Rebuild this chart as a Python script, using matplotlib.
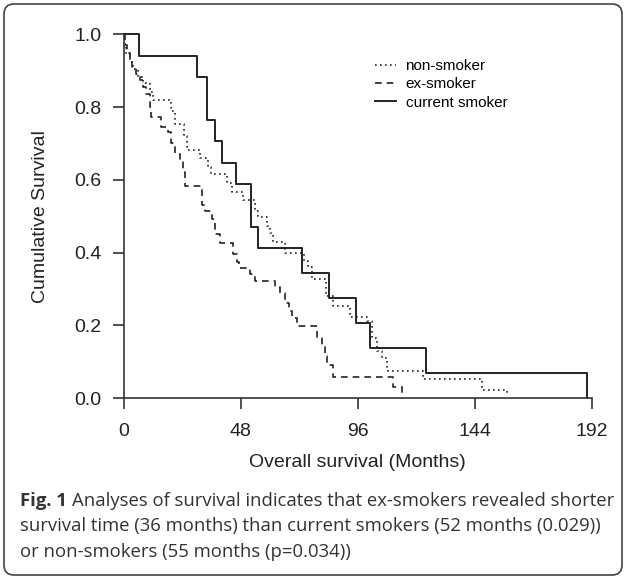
import numpy as np
import matplotlib.pyplot as plt
from matplotlib.patches import FancyBboxPatch
from matplotlib.transforms import IdentityTransform

# Kaplan-Meier step curves (months, cumulative survival)
t_non = [0, 0.7, 1.1, 2.5, 3.9, 5.9, 8.0, 10.7, 12.0, 19.6, 21.0, 24.6, 25.9, 31.4, 34.8, 36.0,
         42.3, 44.3, 49.1, 54.0, 55.3, 58.7, 60.0, 61.4, 66.2, 73.9, 75.7, 77.1, 83.0, 86.0,
         92.8, 100.0, 101.7, 103.8, 105.8, 107.9, 108.5, 122.9, 146.8, 157.0]
s_non = [1.0, 0.97, 0.947, 0.924, 0.904, 0.883, 0.866, 0.842, 0.819, 0.79, 0.754, 0.72, 0.683, 0.66, 0.636, 0.615,
         0.59, 0.566, 0.545, 0.515, 0.497, 0.474, 0.455, 0.428, 0.40, 0.377, 0.359, 0.327, 0.28, 0.253,
         0.223, 0.212, 0.165, 0.129, 0.111, 0.083, 0.074, 0.051, 0.023, 0.012]

t_ex = [0, 0.7, 1.5, 2.5, 3.5, 5.3, 6.6, 8.0, 9.3, 10.7, 11.4, 15.5, 18.2, 19.5, 21.1, 23.2, 24.5, 25.2,
        32.0, 33.4, 36.1, 37.5, 39.5, 45.0, 46.4, 47.3, 51.8, 53.9, 62.1, 64.1, 66.2, 68.0, 68.9, 71.0,
        79.2, 81.2, 82.5, 83.3, 86.0, 110.6, 114.0]
s_ex = [1.0, 0.97, 0.948, 0.924, 0.906, 0.892, 0.874, 0.855, 0.837, 0.80, 0.773, 0.745, 0.73, 0.70, 0.672, 0.649, 0.62, 0.582,
        0.53, 0.515, 0.493, 0.452, 0.425, 0.396, 0.373, 0.357, 0.341, 0.322, 0.305, 0.29, 0.262, 0.24, 0.221, 0.198,
        0.165, 0.143, 0.115, 0.092, 0.058, 0.029, 0.0]

t_cur = [0, 6.4, 30.2, 34.4, 37.5, 40.2, 46.1, 52.1, 55.3, 73.3, 84.1, 95.2, 101.0, 123.8, 190.0]
s_cur = [1.0, 0.941, 0.882, 0.765, 0.706, 0.647, 0.588, 0.471, 0.412, 0.343, 0.275, 0.206, 0.137, 0.069, 0.0]

labels = ["non-smoker", "ex-smoker", "current smoker"]
xticks = [0, 48, 96, 144, 192]
yticks = [0.0, 0.2, 0.4, 0.6, 0.8, 1.0]

caption = ["Analyses of survival indicates that ex-smokers revealed shorter",
           "survival time (36 months) than current smokers (52 months (0.029))",
           "or non-smokers (55 months (p=0.034))"]

plt.rcParams['font.family'] = ['Liberation Sans', 'DejaVu Sans']
ink = '#222222'

fig = plt.figure(figsize=(6.27, 5.78), dpi=100)
ax = fig.add_axes([0.197, 0.3114, 0.747, 0.6293])

ax.step(t_non, s_non, where='post', color=ink, lw=1.2, ls=(0, (1, 2)), clip_on=False, label=labels[0])
ax.step(t_ex, s_ex, where='post', color=ink, lw=1.2, ls=(0, (4, 3)), clip_on=False, label=labels[1])
ax.step(t_cur, s_cur, where='post', color=ink, lw=1.4, clip_on=False, label=labels[2])

ax.set_xlim(0, 192)
ax.set_ylim(0, 1)
ax.set_xticks(xticks)
ax.set_yticks(yticks)
ax.set_yticklabels([f"{v:.1f}" for v in yticks])
for s in ['top', 'right']:
    ax.spines[s].set_visible(False)
for s in ['left', 'bottom']:
    ax.spines[s].set_color('#333333')
    ax.spines[s].set_linewidth(1.2)
ax.tick_params(direction='out', length=8, width=1.2, color='#333333', labelsize=14, labelcolor=ink)
ax.tick_params(axis='x', pad=10)
ax.tick_params(axis='y', pad=8)
ax.set_xlabel("Overall survival (Months)", fontsize=14, color=ink, labelpad=10)
ax.set_ylabel("Cumulative Survival", fontsize=14, color=ink, labelpad=18)

ax.legend(loc='upper left', bbox_to_anchor=(0.598, 0.898), bbox_transform=fig.transFigure,
          frameon=False, fontsize=11, handlelength=1.4, handletextpad=0.6, labelspacing=0.28,
          borderpad=0, borderaxespad=0)

# caption
cap_color = '#333333'
cap_size = 13.3
fig.canvas.draw()
r = fig.canvas.get_renderer()
t1 = fig.text(0.032, 0.1332, "Fig. 1", fontsize=cap_size, fontweight='bold', family='Open Sans',
              color=cap_color, va='center')
bb = t1.get_window_extent(renderer=r)
x_next = (bb.x1 + 5) / fig.bbox.width
fig.text(x_next, 0.1332, caption[0], fontsize=cap_size, family='Open Sans', color=cap_color, va='center')
fig.text(0.032, 0.0900, caption[1], fontsize=cap_size, family='Open Sans', color=cap_color, va='center')
fig.text(0.032, 0.0450, caption[2], fontsize=cap_size, family='Open Sans', color=cap_color, va='center')

# rounded frame around figure and caption
frame = FancyBboxPatch((4, 3), 618, 571, boxstyle='round,pad=0,rounding_size=10',
                       transform=IdentityTransform(), fill=False, ec='#444444', lw=1.2)
fig.patches.append(frame)

fig.savefig('out.png', dpi=100)
